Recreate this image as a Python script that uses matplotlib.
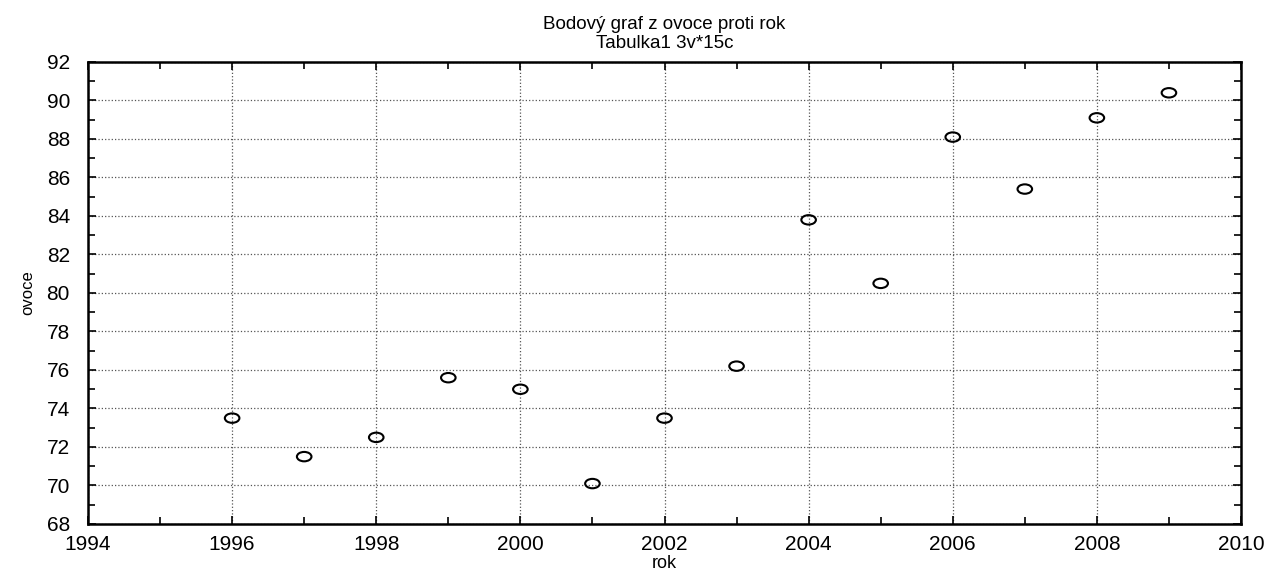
import matplotlib
matplotlib.use('Agg')
import matplotlib.pyplot as plt
from matplotlib.path import Path
from matplotlib.transforms import Affine2D
from matplotlib.ticker import MultipleLocator

# Data
rok = [1996, 1997, 1998, 1999, 2000, 2001, 2002, 2003, 2004, 2005, 2006, 2007, 2008, 2009]
ovoce = [73.5, 71.5, 72.5, 75.6, 75.0, 70.1, 73.5, 76.2, 83.8, 80.5, 88.1, 85.4, 89.1, 90.4]

plt.rcParams['font.family'] = ['Liberation Sans', 'DejaVu Sans']

fig = plt.figure(figsize=(12.74, 5.76), dpi=100)
ax = fig.add_axes([88 / 1274, 1 - 524 / 576, (1241 - 88) / 1274, (524 - 62) / 576])

# ellipse marker (wider than tall, like the original)
ellipse = Path.unit_circle().transformed(Affine2D().scale(1.55, 1.0))
ax.scatter(rok, ovoce, marker=ellipse, s=110, facecolors='none',
           edgecolors='black', linewidths=1.5, zorder=3)

ax.set_xlim(1994, 2010)
ax.set_ylim(68, 92)
ax.xaxis.set_major_locator(MultipleLocator(2))
ax.xaxis.set_minor_locator(MultipleLocator(1))
ax.yaxis.set_major_locator(MultipleLocator(2))
ax.yaxis.set_minor_locator(MultipleLocator(1))

ax.grid(True, which='major', linestyle=':', color='#555555', linewidth=0.9)
ax.tick_params(which='both', direction='in', top=True, right=True,
               labelsize=15, width=1.2)
ax.tick_params(axis='x', pad=8)
ax.tick_params(axis='y', pad=13)
ax.tick_params(which='major', length=6)
ax.tick_params(which='minor', length=5)
for s in ax.spines.values():
    s.set_linewidth(1.8)

ax.set_xlabel('rok', fontsize=13, labelpad=1)
ax.set_ylabel('ovoce', fontsize=12, labelpad=8)
ax.set_title('Bodový graf z ovoce proti rok\nTabulka1 3v*15c', fontsize=13.5,
             linespacing=1.2, pad=10)

fig.savefig('out.png', dpi=100)
